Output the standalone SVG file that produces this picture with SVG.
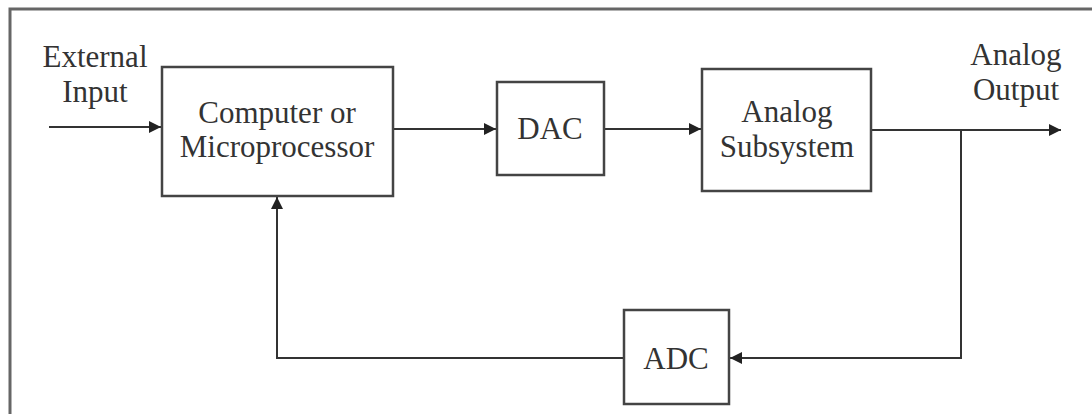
<svg xmlns="http://www.w3.org/2000/svg" width="1092" height="414" viewBox="0 0 1092 414">
<style>
.box{fill:#fff;stroke:#444;stroke-width:2.5}
.ln{fill:none;stroke:#333;stroke-width:2}
.t{font-family:"Liberation Serif","Times New Roman",serif;font-size:31px;fill:#333;text-anchor:middle}
</style>
<defs>
<marker id="ah" viewBox="0 0 10 10" refX="10" refY="5" markerWidth="15" markerHeight="12" markerUnits="userSpaceOnUse" orient="auto">
<path d="M0,0 L10,5 L0,10 z" fill="#222"/>
</marker>
</defs>
<rect width="1092" height="414" fill="#fff"/>
<path d="M10,414 V9 H1092" fill="none" stroke="#666" stroke-width="3"/>
<g id="connectors">
<line class="ln" x1="49" y1="127" x2="161" y2="127" marker-end="url(#ah)"/>
<line class="ln" x1="393" y1="129" x2="496" y2="129" marker-end="url(#ah)"/>
<line class="ln" x1="604" y1="129" x2="701" y2="129" marker-end="url(#ah)"/>
<line class="ln" x1="871" y1="130" x2="1061" y2="130" marker-end="url(#ah)"/>
<polyline class="ln" points="961,130 961,358 730,358" marker-end="url(#ah)"/>
<polyline class="ln" points="624,358 277,358 277,197" marker-end="url(#ah)"/>
</g>
<g id="external-input">
<text class="t" x="95" y="67">External</text>
<text class="t" x="95" y="102">Input</text>
</g>
<g id="computer">
<rect class="box" x="162" y="67" width="231" height="129"/>
<text class="t" x="277" y="123">Computer or</text>
<text class="t" x="277" y="157">Microprocessor</text>
</g>
<g id="dac">
<rect class="box" x="497" y="82" width="107" height="93"/>
<text class="t" x="550" y="139">DAC</text>
</g>
<g id="analog-subsystem">
<rect class="box" x="702" y="69" width="169" height="122"/>
<text class="t" x="787" y="122">Analog</text>
<text class="t" x="787" y="157">Subsystem</text>
</g>
<g id="analog-output">
<text class="t" x="1016" y="65">Analog</text>
<text class="t" x="1016" y="100">Output</text>
</g>
<g id="adc">
<rect class="box" x="624" y="310" width="105" height="94"/>
<text class="t" x="676" y="369">ADC</text>
</g>
</svg>
